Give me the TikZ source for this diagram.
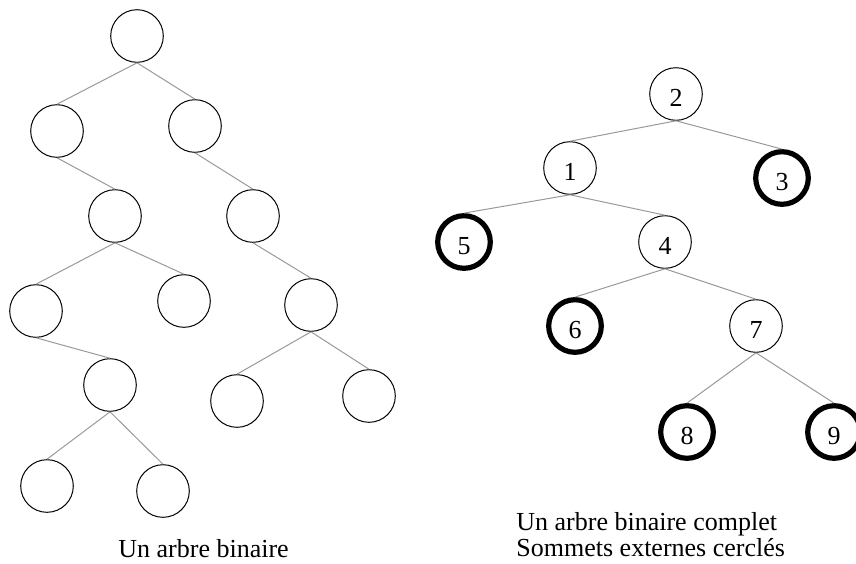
\documentclass[tikz,border=0pt]{standalone}
\usepackage{fontspec}
\setmainfont{Liberation Serif}
\usepackage{tikz}
\tikzset{
  sommet/.style={circle,draw=black,line width=0.5pt,minimum size=26.3pt,inner sep=0pt,
                 text height=12.3pt,text depth=0pt,
                 font=\fontsize{13}{13}\selectfont},          % internal node
  externe/.style={sommet,line width=2.6pt},                  % external node (circled)
  arete/.style={gray!80,line width=0.5pt},                   % tree edge
  legende/.style={font=\fontsize{13}{13}\selectfont,align=left,inner sep=0pt},
}

\begin{document}
\begin{tikzpicture}[x=0.5pt,y=-0.5pt]
  \useasboundingbox (0,0) rectangle (856,563);
  % arbre binaire (left)
  \node[sommet] (a0)  at (137,36)  {};
  \node[sommet] (a1)  at (57,131)  {};
  \node[sommet] (a2)  at (195,126) {};
  \node[sommet] (a3)  at (115,216) {};
  \node[sommet] (a4)  at (253,216) {};
  \node[sommet] (a5)  at (36,311)  {};
  \node[sommet] (a6)  at (184,301) {};
  \node[sommet] (a7)  at (311,305) {};
  \node[sommet] (a8)  at (110,385) {};
  \node[sommet] (a9)  at (237,401) {};
  \node[sommet] (a10) at (369,396) {};
  \node[sommet] (a11) at (47,486)  {};
  \node[sommet] (a12) at (163,491) {};
  \foreach \p/\e in {a0/a1,a0/a2,a1/a3,a2/a4,a3/a5,a3/a6,a4/a7,a5/a8,a7/a9,a7/a10,a8/a11,a8/a12}
    \draw[arete] (\p.south) -- (\e.north);
  \node[legende,anchor=base west] (t1) at (118,557) {Un arbre binaire};
  % arbre binaire complet (right)
  \node[sommet]  (n2) at (676,94)  {2};
  \node[sommet]  (n1) at (570,168) {1};
  \node[externe] (n3) at (782,178) {3};
  \node[externe] (n5) at (464,242) {5};
  \node[sommet]  (n4) at (665,242) {4};
  \node[externe] (n6) at (575,326) {6};
  \node[sommet]  (n7) at (756,326) {7};
  \node[externe] (n8) at (687,432) {8};
  \node[externe] (n9) at (834,432) {9};
  \foreach \p/\e in {n2/n1,n2/n3,n1/n5,n1/n4,n4/n6,n4/n7,n7/n8,n7/n9}
    \draw[arete] (\p.south) -- (\e.north);
  \node[legende,anchor=base west] (t2) at (516,556)
    {Un arbre binaire complet\\Sommets externes cerclés};
\end{tikzpicture}
\end{document}
